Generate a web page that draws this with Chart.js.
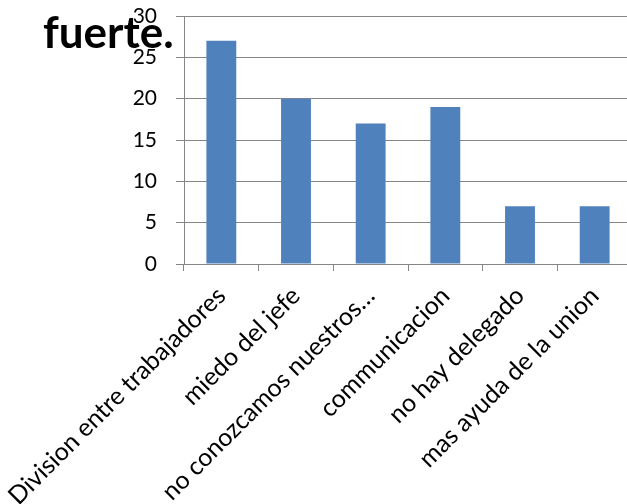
<!DOCTYPE html>
<html><head><meta charset="utf-8">
<script src="https://cdn.jsdelivr.net/npm/chart.js@4"></script>
<style>
html,body{margin:0;padding:0;overflow:hidden;background:#fff;width:627px;height:504px;}
#wrap{position:absolute;left:0;top:0;width:640px;height:504px;}
</style></head><body>
<div id="wrap"><canvas id="c" width="640" height="504"></canvas></div>
<script>
const titleText = "fuerte.";
const categories = ["Division entre trabajadores","miedo del jefe","no conozcamos nuestros…","communicacion","no hay delegado","mas ayuda de la union"];
const values = [27, 20, 17, 19, 7, 7];
const yTicks = [0, 5, 10, 15, 20, 25, 30];

const FONT = "Lato, 'Open Sans', sans-serif";
const titlePlugin = {
  id: 'overTitle',
  afterDraw(chart) {
    const ctx = chart.ctx;
    ctx.save();
    ctx.font = "bold 44px " + FONT;
    ctx.fillStyle = "#000";
    ctx.textBaseline = "alphabetic";
    ctx.textAlign = "left";
    ctx.fillText(titleText, 43, 48);
    ctx.restore();
  }
};

new Chart(document.getElementById('c'), {
  type: 'bar',
  data: { labels: categories, datasets: [{ data: values, backgroundColor: '#4F81BD', categoryPercentage: 1, barPercentage: 0.4 }] },
  options: {
    responsive: false, animation: false,
    layout: { padding: { left: 0, right: 8, top: 0, bottom: 0 } },
    plugins: { legend: { display: false }, tooltip: { enabled: false } },
    scales: {
      y: {
        min: 0, max: 30,
        afterBuildTicks(s) { s.ticks = yTicks.map(v => ({ value: v })); },
        afterFit(s) { s.width = 184; s.paddingTop = 16; },
        border: { color: '#868686', width: 1 },
        grid: { color: '#868686', tickLength: 8, tickColor: '#868686' },
        ticks: { color: '#000', font: { family: FONT, size: 21 }, padding: 19 }
      },
      x: {
        afterFit(s) { s.height = 240; s.paddingTop = 0; s.paddingLeft = 0; s.paddingRight = 0; },
        border: { color: '#868686', width: 1 },
        grid: { offset: true, drawOnChartArea: false, tickLength: 7, color: '#868686' },
        ticks: { color: '#000', font: { family: FONT, size: 25 }, maxRotation: 45, minRotation: 45, autoSkip: false, padding: 10 }
      }
    }
  },
  plugins: [titlePlugin]
});
</script>
</body></html>
